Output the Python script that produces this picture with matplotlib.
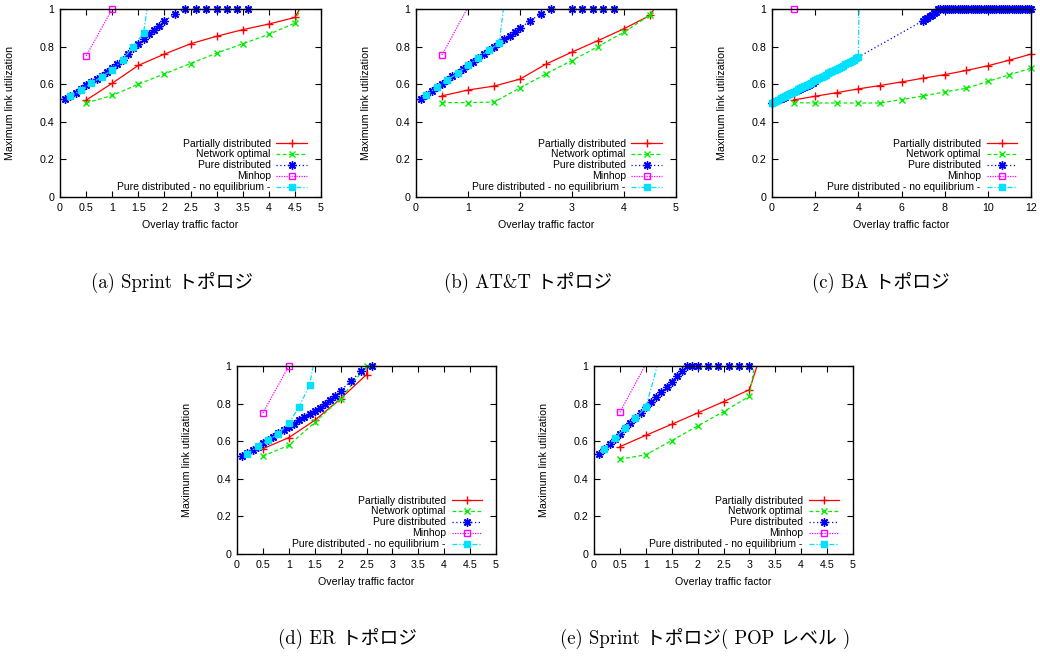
import matplotlib
matplotlib.use('Agg')
import matplotlib.pyplot as plt
from matplotlib.lines import Line2D
from matplotlib.ticker import FormatStrFormatter, MultipleLocator

plt.rcParams['font.family'] = ['Liberation Sans', 'DejaVu Sans']
plt.rcParams['font.size'] = 7.7

# ---------------- data ----------------
labels = ['Partially distributed', 'Network optimal', 'Pure distributed',
          'Minhop', 'Pure distributed - no equilibrium -']

# (a) Sprint
a_part_x = [0.5, 1, 1.5, 2, 2.5, 3, 3.5, 4, 4.5, 5]
a_part_y = [0.515, 0.605, 0.70, 0.76, 0.815, 0.855, 0.89, 0.92, 0.955, 1.20]
a_opt_x = [0.5, 1, 1.5, 2, 2.5, 3, 3.5, 4, 4.5, 5]
a_opt_y = [0.50, 0.54, 0.60, 0.655, 0.71, 0.765, 0.815, 0.865, 0.925, 1.30]
a_pure_x = [0.1, 0.2, 0.3, 0.4, 0.5, 0.6, 0.7, 0.8, 0.9, 1.0, 1.1, 1.2, 1.3, 1.4,
            1.5, 1.6, 1.7, 1.8, 1.9, 2.0, 2.2, 2.4, 2.6, 2.8, 3.0, 3.2, 3.4, 3.6]
a_pure_y = [0.52, 0.537, 0.555, 0.575, 0.595, 0.61, 0.63, 0.645, 0.665, 0.685, 0.705,
            0.73, 0.76, 0.79, 0.815, 0.84, 0.865, 0.89, 0.91, 0.935, 0.975,
            1.0, 1.0, 1.0, 1.0, 1.0, 1.0, 1.0]
a_minhop_x = [0.5, 1.0]
a_minhop_y = [0.75, 1.0]
a_noeq_x = [0.2, 0.4, 0.6, 0.8, 1.0, 1.2, 1.4, 1.6, 1.8]
a_noeq_y = [0.535, 0.57, 0.605, 0.64, 0.675, 0.73, 0.80, 0.87, 1.25]

# (b) AT&T
b_part_x = [0.5, 1, 1.5, 2, 2.5, 3, 3.5, 4, 4.5, 5]
b_part_y = [0.538, 0.569, 0.59, 0.627, 0.707, 0.771, 0.832, 0.895, 0.966, 1.18]
b_opt_x = [0.5, 1, 1.5, 2, 2.5, 3, 3.5, 4, 4.5, 5]
b_opt_y = [0.502, 0.502, 0.505, 0.58, 0.655, 0.726, 0.80, 0.877, 0.968, 1.29]
b_pure_x = [0.1, 0.2, 0.3, 0.4, 0.5, 0.6, 0.7, 0.8, 0.9, 1.0, 1.1, 1.2, 1.3, 1.4,
            1.5, 1.6, 1.7, 1.8, 1.9, 2.0, 2.2, 2.4, 2.6, 3.0, 3.2, 3.4, 3.6, 3.8]
b_pure_y = [0.523, 0.543, 0.564, 0.583, 0.601, 0.62, 0.642, 0.66, 0.68, 0.70, 0.72,
            0.74, 0.76, 0.78, 0.80, 0.818, 0.838, 0.858, 0.877, 0.899, 0.938, 0.975,
            1.0, 1.0, 1.0, 1.0, 1.0, 1.0]
b_minhop_x = [0.5, 1.0]
b_minhop_y = [0.755, 1.01]
b_noeq_x = [0.2, 0.4, 0.6, 0.8, 1.0, 1.2, 1.4, 1.6, 1.8]
b_noeq_y = [0.543, 0.584, 0.62, 0.66, 0.70, 0.742, 0.78, 0.818, 1.27]

# (c) BA
c_part_x = [1, 2, 3, 4, 5, 6, 7, 8, 9, 10, 11, 12]
c_part_y = [0.516, 0.536, 0.555, 0.575, 0.593, 0.612, 0.632, 0.651, 0.673, 0.698, 0.728, 0.76]
c_opt_x = [1, 2, 3, 4, 5, 6, 7, 8, 9, 10, 11, 12]
c_opt_y = [0.502, 0.50, 0.50, 0.50, 0.50, 0.518, 0.537, 0.559, 0.578, 0.615, 0.65, 0.685]
c_pure_x = [0.0, 0.1, 0.2, 0.3, 0.4, 0.5, 0.6, 0.7, 0.8, 0.9, 1.0, 1.1, 1.2, 1.3, 1.4,
            1.5, 1.6, 1.7, 1.8, 1.9, 2.0,
            7.0, 7.1, 7.2, 7.3, 7.4, 7.5, 7.6, 7.7, 7.8, 7.9,
            8.0, 8.1, 8.2, 8.3, 8.4, 8.5, 8.6, 8.7, 8.8, 8.9,
            9.0, 9.1, 9.2, 9.3, 9.4, 9.5, 9.6, 9.7, 9.8, 9.9,
            10.0, 10.1, 10.2, 10.3, 10.4, 10.5, 10.6, 10.7, 10.8, 10.9,
            11.0, 11.1, 11.2, 11.3, 11.4, 11.5, 11.6, 11.7, 11.8, 11.9, 12.0]
c_pure_y = [0.500, 0.505, 0.511, 0.517, 0.523, 0.529, 0.534, 0.540, 0.546, 0.552, 0.558,
            0.563, 0.569, 0.575, 0.581, 0.586, 0.592, 0.598, 0.604, 0.609, 0.615,
            0.938, 0.945, 0.953, 0.962, 0.970, 0.978, 0.986, 1.0, 1.0, 1.0,
            1.0, 1.0, 1.0, 1.0, 1.0, 1.0, 1.0, 1.0, 1.0, 1.0,
            1.0, 1.0, 1.0, 1.0, 1.0, 1.0, 1.0, 1.0, 1.0, 1.0,
            1.0, 1.0, 1.0, 1.0, 1.0, 1.0, 1.0, 1.0, 1.0, 1.0,
            1.0, 1.0, 1.0, 1.0, 1.0, 1.0, 1.0, 1.0, 1.0, 1.0, 1.0]
c_minhop_x = [1.0]
c_minhop_y = [1.0]
c_noeq_x = [0.0, 0.1, 0.2, 0.3, 0.4, 0.5, 0.6, 0.7, 0.8, 0.9, 1.0, 1.1, 1.2, 1.3, 1.4,
            1.5, 1.6, 1.7, 1.8, 1.9, 2.0, 2.1, 2.2, 2.3, 2.4, 2.5, 2.6, 2.7, 2.8, 2.9,
            3.0, 3.1, 3.2, 3.3, 3.4, 3.5, 3.6, 3.7, 3.8, 3.9, 4.0, 4.1]
c_noeq_y = [0.500, 0.506, 0.512, 0.518, 0.524, 0.530, 0.536, 0.542, 0.548, 0.554, 0.560,
            0.566, 0.572, 0.578, 0.584, 0.590, 0.596, 0.603, 0.609, 0.615, 0.621,
            0.627, 0.633, 0.639, 0.645, 0.651, 0.657, 0.663, 0.669, 0.675, 0.681,
            0.687, 0.693, 0.699, 0.705, 0.711, 0.717, 0.724, 0.731, 0.738, 0.745, 1.6]

# (d) ER
d_part_x = [0.5, 1, 1.5, 2, 2.5, 3]
d_part_y = [0.56, 0.619, 0.711, 0.826, 0.954, 2.1]
d_opt_x = [0.5, 1, 1.5, 2, 2.5, 3]
d_opt_y = [0.521, 0.578, 0.70, 0.826, 1.0, 1.6]
d_pure_x = [0.1, 0.2, 0.3, 0.4, 0.5, 0.6, 0.7, 0.8, 0.9, 1.0, 1.1, 1.2, 1.3, 1.4,
            1.5, 1.6, 1.7, 1.8, 1.9, 2.0, 2.2, 2.4, 2.6]
d_pure_y = [0.52, 0.535, 0.553, 0.571, 0.589, 0.606, 0.624, 0.642, 0.66, 0.675, 0.693,
            0.711, 0.729, 0.745, 0.761, 0.778, 0.796, 0.817, 0.842, 0.869, 0.92, 0.973, 1.0]
d_minhop_x = [0.5, 1.0]
d_minhop_y = [0.75, 1.0]
d_noeq_x = [0.2, 0.4, 0.6, 0.8, 1.0, 1.2, 1.4, 1.6]
d_noeq_y = [0.534, 0.573, 0.605, 0.64, 0.695, 0.784, 0.897, 1.19]

# (e) Sprint POP level
e_part_x = [0.5, 1, 1.5, 2, 2.5, 3, 3.5]
e_part_y = [0.571, 0.631, 0.69, 0.75, 0.81, 0.874, 1.30]
e_opt_x = [0.5, 1, 1.5, 2, 2.5, 3, 3.5]
e_opt_y = [0.504, 0.528, 0.603, 0.681, 0.757, 0.839, 1.66]
e_pure_x = [0.1, 0.2, 0.3, 0.4, 0.5, 0.6, 0.7, 0.8, 0.9, 1.0, 1.1, 1.2, 1.3, 1.4,
            1.5, 1.6, 1.7, 1.8, 1.9, 2.0, 2.2, 2.4, 2.6, 2.8, 3.0]
e_pure_y = [0.53, 0.557, 0.583, 0.612, 0.64, 0.668, 0.697, 0.725, 0.752, 0.78, 0.807,
            0.833, 0.862, 0.89, 0.917, 0.947, 0.973, 1.0, 1.0, 1.0, 1.0, 1.0, 1.0, 1.0, 1.0]
e_minhop_x = [0.5, 1.0]
e_minhop_y = [0.754, 1.01]
e_noeq_x = [0.2, 0.4, 0.6, 0.8, 1.0, 1.4]
e_noeq_y = [0.557, 0.615, 0.67, 0.725, 0.78, 1.18]

captions = ['(a) Sprint トポロジ', '(b) AT&T トポロジ', '(c) BA トポロジ',
            '(d) ER トポロジ', '(e) Sprint トポロジ( POP レベル )']

# ---------------- styles ----------------
ASTER = (8, 2, 0)
styles = [
    dict(color='#ff0000', ls='-', marker='+', ms=5.5, mfc='#ff0000'),
    dict(color='#00ee00', ls=(0, (3, 2)), marker='x', ms=4.5, mfc='#00ee00'),
    dict(color='#0000ff', ls=(0, (1, 2)), marker=ASTER, ms=6, mfc='#0000ff'),
    dict(color='#ff00ff', ls=(0, (1, 1)), marker='s', ms=4.5, mfc='none'),
    dict(color='#00e0ff', ls=(0, (4, 1.5, 1, 1.5)), marker='s', ms=4.6, mfc='#00e0ff'),
]


def draw_panel(ax, series, xmax, xstep):
    handles = []
    for (xs, ys), st, lab in zip(series, styles, labels):
        ax.plot(xs, ys, color=st['color'], ls=st['ls'], lw=0.9)
        inx = [x for x, y in zip(xs, ys) if y <= 1.0]
        iny = [y for y in ys if y <= 1.0]
        ax.plot(inx, iny, ls='none', marker=st['marker'], ms=st['ms'],
                mfc=st['mfc'], mec=st['color'], mew=1.0, clip_on=False)
        handles.append(Line2D([], [], color=st['color'], ls=st['ls'], lw=0.9,
                              marker=st['marker'], ms=st['ms'], mfc=st['mfc'],
                              mec=st['color'], mew=1.0, label=lab))
    ax.set_xlim(0, xmax)
    ax.set_ylim(0, 1)
    ax.xaxis.set_major_locator(MultipleLocator(xstep))
    ax.yaxis.set_major_locator(MultipleLocator(0.2))
    ax.xaxis.set_major_formatter(FormatStrFormatter('%g'))
    ax.yaxis.set_major_formatter(FormatStrFormatter('%g'))
    ax.tick_params(direction='in', top=True, right=True, length=4, width=0.8,
                   labelsize=7.7, pad=4)
    for sp in ax.spines.values():
        sp.set_linewidth(1.0)
    ax.set_xlabel('Overlay traffic factor', fontsize=7.7, labelpad=5.5)
    ax.set_ylabel('Maximum link utilization', fontsize=7.7)
    ax.yaxis.set_label_coords(-0.172, 0.5)
    ax.legend(handles=handles, loc='lower right', bbox_to_anchor=(0.945, 0.025),
              frameon=False, markerfirst=False, fontsize=7.5, borderpad=0,
              borderaxespad=0, handlelength=2.9, handletextpad=0.55,
              labelspacing=0.09, numpoints=1)


fig = plt.figure(figsize=(10.4, 6.58), dpi=100)
W, H = 1040, 658
boxes = [(60, 9, 261, 188), (416, 9, 260, 188), (772, 9, 259, 188),
         (237, 366, 259, 188), (594, 366, 259, 188)]
axes = [fig.add_axes([l / W, 1 - (t + h) / H, w / W, h / H]) for l, t, w, h in boxes]

draw_panel(axes[0], [(a_part_x, a_part_y), (a_opt_x, a_opt_y), (a_pure_x, a_pure_y),
                     (a_minhop_x, a_minhop_y), (a_noeq_x, a_noeq_y)], 5, 0.5)
draw_panel(axes[1], [(b_part_x, b_part_y), (b_opt_x, b_opt_y), (b_pure_x, b_pure_y),
                     (b_minhop_x, b_minhop_y), (b_noeq_x, b_noeq_y)], 5, 1)
draw_panel(axes[2], [(c_part_x, c_part_y), (c_opt_x, c_opt_y), (c_pure_x, c_pure_y),
                     (c_minhop_x, c_minhop_y), (c_noeq_x, c_noeq_y)], 12, 2)
draw_panel(axes[3], [(d_part_x, d_part_y), (d_opt_x, d_opt_y), (d_pure_x, d_pure_y),
                     (d_minhop_x, d_minhop_y), (d_noeq_x, d_noeq_y)], 5, 0.5)
draw_panel(axes[4], [(e_part_x, e_part_y), (e_opt_x, e_opt_y), (e_pure_x, e_pure_y),
                     (e_minhop_x, e_minhop_y), (e_noeq_x, e_noeq_y)], 5, 0.5)

cap_pos = [(172, 284), (528, 284), (881, 284), (348, 640), (705, 640)]
for (cx, cy), txt in zip(cap_pos, captions):
    fig.text(cx / W, 1 - cy / H, txt, ha='center', va='center', fontsize=13.5,
             family=['cmr10', 'Noto Sans CJK JP'])

fig.savefig('out.png', dpi=100)
